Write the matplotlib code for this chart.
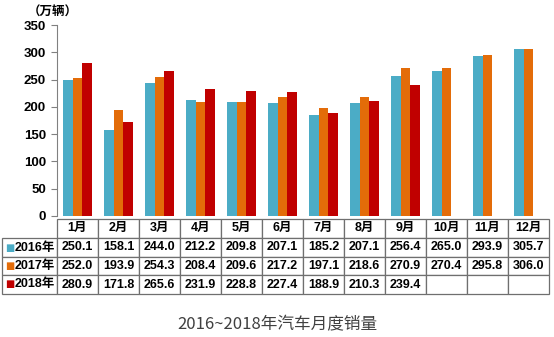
import numpy as np
import matplotlib.pyplot as plt

months = ['1月', '2月', '3月', '4月', '5月', '6月', '7月', '8月', '9月', '10月', '11月', '12月']
years = ['2016年', '2017年', '2018年']
sales_2016 = [250.1, 158.1, 244.0, 212.2, 209.8, 207.1, 185.2, 207.1, 256.4, 265.0, 293.9, 305.7]
sales_2017 = [252.0, 193.9, 254.3, 208.4, 209.6, 217.2, 197.1, 218.6, 270.9, 270.4, 295.8, 306.0]
sales_2018 = [280.9, 171.8, 265.6, 231.9, 228.8, 227.4, 188.9, 210.3, 239.4, np.nan, np.nan, np.nan]
colors = ['#4bacc6', '#e36c09', '#c00000']

FONT = ['Liberation Sans', 'Noto Sans CJK SC', 'DejaVu Sans']
plt.rcParams['font.family'] = FONT

fig = plt.figure(figsize=(5.54, 3.37), dpi=100)
W, H = 554, 337
# axes placed in pixels: x 57..549, y 25..216 (from top)
ax = fig.add_axes([57 / W, 1 - 216 / H, 492 / W, 191 / H])

x = np.arange(len(months))
bw = 0.24
series = [sales_2016, sales_2017, sales_2018]
for k, vals in enumerate(series):
    ax.bar(x + (k - 1) * bw, vals, bw, color=colors[k], linewidth=0)

ax.set_xlim(-0.5, 11.5)
ax.set_ylim(0, 350)
ax.set_yticks(np.arange(0, 351, 50))
ax.set_xticks([])
for s in ['top', 'right', 'bottom']:
    ax.spines[s].set_visible(False)
ax.spines['left'].set_color('#808080')
ax.tick_params(axis='y', length=4, width=0.8, color='#808080', pad=4)
for lab in ax.get_yticklabels():
    lab.set_fontweight('bold')
    lab.set_fontsize(9.5)

# unit label
fig.text(53 / W, 1 - 12 / H, '（万辆）', ha='center', va='center',
         fontsize=9, fontweight='bold', family=['Noto Sans CJK SC', 'DejaVu Sans'])

# data table
def fmt(v):
    return '' if np.isnan(v) else f'{v:.1f}'

cell_text = [[''] + [fmt(v) for v in vals] for vals in series]
col_labels = [''] + months
widths = [55 / 547] + [41 / 547] * 12
tbl = ax.table(cellText=cell_text, colLabels=col_labels, colWidths=widths,
               cellLoc='center', bbox=[-55 / 492, -78 / 191, 547 / 492, 75 / 191])
tbl.auto_set_font_size(False)
for (r, c), cell in tbl.get_celld().items():
    cell.set_edgecolor('#6f6f6f')
    cell.set_linewidth(0.9)
    cell.get_text().set_fontsize(9)
    cell.get_text().set_fontweight('bold')
    cell.get_text().set_family(FONT)
    if r == 0 and c == 0:
        cell.visible_edges = ''

# row labels with colour markers
row_y = [(216 - 247.5) / 191, (216 - 266) / 191, (216 - 284.5) / 191]
for k, yr in enumerate(years):
    ax.text(-47 / 492, row_y[k], '■', color=colors[k], fontsize=7,
            ha='center', va='center', transform=ax.transAxes, clip_on=False,
            family='DejaVu Sans')
    ax.text(-2 / 492, row_y[k], yr, ha='right', va='center', fontsize=9,
            fontweight='bold', transform=ax.transAxes, clip_on=False)

fig.text(277 / W, 1 - 325 / H, '2016~2018年汽车月度销量', ha='center', va='center',
         fontsize=12, color='#404040', family=['Noto Sans CJK SC', 'DejaVu Sans'])

fig.savefig('out.png', dpi=100)
